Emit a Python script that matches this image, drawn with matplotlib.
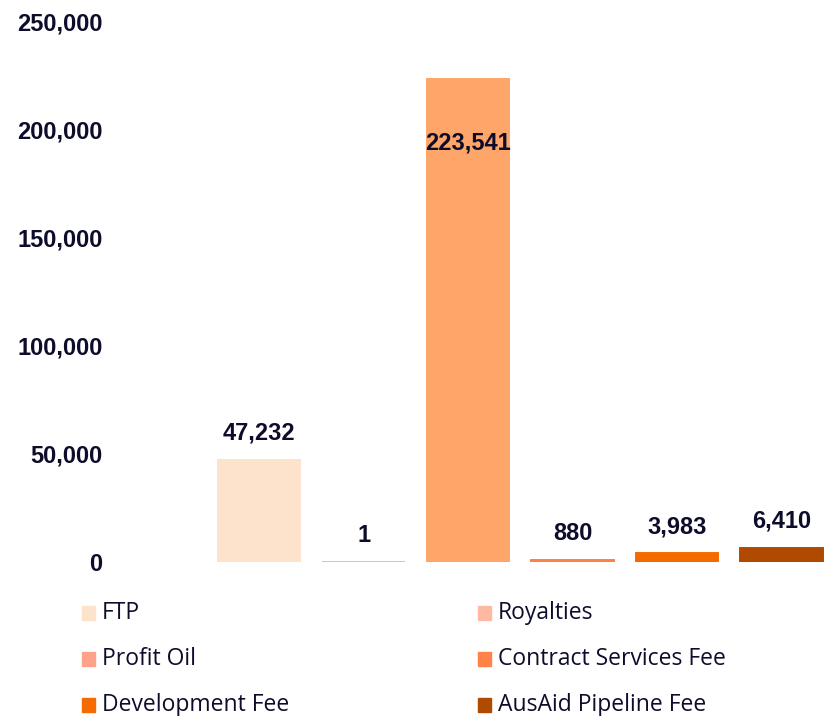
import matplotlib.pyplot as plt
from matplotlib.patches import Rectangle

categories = ['FTP', 'Royalties', 'Profit Oil', 'Contract Services Fee',
              'Development Fee', 'AusAid Pipeline Fee']
values = [47232, 1, 223541, 880, 3983, 6410]
bar_colors = ['#FDE2CC', '#F8B8A0', '#FEA66A', '#FF8046', '#F56A00', '#B04A00']
legend_colors = ['#FEE3CC', '#FFB9A3', '#FFA28A', '#FF8248', '#F66B00', '#B04A00']
yticks = [0, 50000, 100000, 150000, 200000, 250000]

W, H = 824, 716
text_col = '#0d0d2b'
fig = plt.figure(figsize=(W / 100, H / 100), dpi=100)
ax = fig.add_axes([115 / W, 1 - 562 / H, (823.5 - 115) / W, (562 - 22) / H])

x = list(range(len(categories)))
ax.bar(x, values, width=0.79, color=bar_colors, edgecolor=bar_colors, linewidth=1.4)

for xi, v in zip(x, values):
    if v > 200000:
        ax.annotate(f'{v:,}', (xi, v), xytext=(0, -46), textcoords='offset points',
                    ha='center', va='center', fontsize=17, fontweight='bold',
                    family='Liberation Sans', color=text_col)
    else:
        ax.annotate(f'{v:,}', (xi, v), xytext=(0, 11), textcoords='offset points',
                    ha='center', va='bottom', fontsize=17, fontweight='bold',
                    family='Liberation Sans', color=text_col)

ax.set_xlim(-1.38, 5.4)
ax.set_ylim(0, 250000)
ax.set_xticks([])
ax.set_yticks(yticks)
ax.set_yticklabels([f'{t:,}' for t in yticks], fontsize=17, fontweight='bold',
                   family='Liberation Sans', color=text_col)
ax.tick_params(axis='y', length=0, pad=9)
for s in ax.spines.values():
    s.set_visible(False)

# legend, two columns
for i, (name, col) in enumerate(zip(categories, legend_colors)):
    c, r = i % 2, i // 2
    x0 = 82 + 396 * c
    y0 = 613 + 46 * r
    fig.patches.append(Rectangle((x0 / W, 1 - (y0 + 7) / H), 13 / W, 14 / H,
                                 transform=fig.transFigure, color=col))
    fig.text((x0 + 20) / W, 1 - y0 / H, name, fontsize=16.5, family='Open Sans',
             color=text_col, va='center', ha='left')

fig.savefig('out.png', dpi=100)
